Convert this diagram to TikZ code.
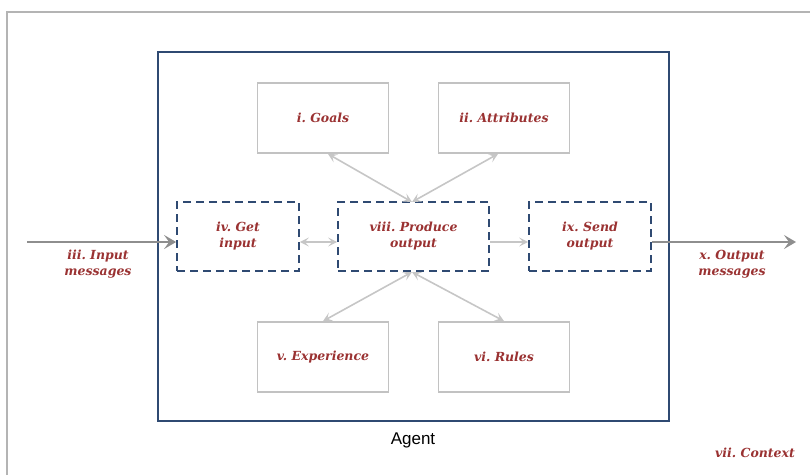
\documentclass[tikz,border=0pt]{standalone}
\usepackage{fontspec}
\setmainfont{DejaVu Serif}
\newfontfamily\agentfont{Liberation Sans}
\usetikzlibrary{arrows.meta}
\frenchspacing
\definecolor{navy}{HTML}{2F4A72}
\definecolor{boxgray}{HTML}{C2C2C2}
\definecolor{linkgray}{HTML}{C6C6C6}
\definecolor{flowgray}{HTML}{8E8E8E}
\definecolor{labelred}{HTML}{9A3232}
\definecolor{framegray}{HTML}{B4B4B4}
\tikzset{
  lbl/.style={text=labelred, font=\fontsize{12.5}{16}\selectfont\bfseries\itshape, align=center},
  partbox/.style={draw=boxgray, line width=1.8pt, minimum width=131pt, minimum height=70pt, inner sep=0pt, lbl},
  actbox/.style={draw=navy, line width=1.8pt, dash pattern=on 8pt off 5pt, inner sep=0pt, lbl},
  link/.style={draw=linkgray, line width=1.6pt, {Stealth[length=9pt,width=9pt,inset=4pt]}-{Stealth[length=9pt,width=9pt,inset=4pt]}},
  onelink/.style={draw=linkgray, line width=1.6pt, -{Stealth[length=9pt,width=9pt,inset=4pt]}},
  flow/.style={draw=flowgray, line width=2.6pt, -{Stealth[length=12pt,width=14pt,inset=5pt]}}
}
\begin{document}
\begin{tikzpicture}[x=1pt,y=-1pt]
\useasboundingbox (0,0) rectangle (810,475);
% context frame
\draw[framegray, line width=1.5pt] (7,475) -- (7,12) -- (810,12);
% agent boundary
\draw[navy, line width=1.8pt] (158,52) rectangle (669,421);
\node[font=\agentfont\fontsize{17}{20}\selectfont] (agent) at (413,440) {Agent};
\node[lbl] (context) at (755,453) {vii. Context};
% agent parts
\node[partbox] (goals) at (323,118) {i. Goals};
\node[partbox] (attr) at (504,118) {ii. Attributes};
\node[partbox] (exp) at (323,357) {v. Experience};
\node[partbox] (rules) at (504,357) {vi. Rules};
% activities
\node[actbox, minimum width=122pt, minimum height=69pt] (get) at (238,236.5) {iv. Get\\input};
\node[actbox, minimum width=151pt, minimum height=69pt] (prod) at (413.5,236.5) {viii. Produce\\output};
\node[actbox, minimum width=122pt, minimum height=69pt] (send) at (590,236.5) {ix. Send\\output};
% connectors inside the agent
\coordinate (ptop) at (412,202);
\coordinate (pbot) at (412,272);
\draw[link] ([xshift=5pt]goals.south) -- (ptop);
\draw[link] ([xshift=-6pt]attr.south) -- (ptop);
\draw[link] (exp.north) -- (pbot);
\draw[link] (rules.north) -- (pbot);
\draw[link] ([yshift=-5.5pt]get.east) -- ([yshift=-5.5pt]prod.west);
\draw[onelink] ([yshift=-5.5pt]prod.east) -- ([yshift=-5.5pt]send.west);
% messages in and out
\coordinate (inStart) at (27,242);
\coordinate (outEnd) at (796,242);
\draw[flow] (inStart) -- ([yshift=-5.5pt]get.west);
\draw[flow] ([yshift=-5.5pt]send.east) -- (outEnd);
\node[lbl] (inmsg) at (98,264) {iii. Input\\messages};
\node[lbl] (outmsg) at (732,264) {x. Output\\messages};
\end{tikzpicture}
\end{document}
